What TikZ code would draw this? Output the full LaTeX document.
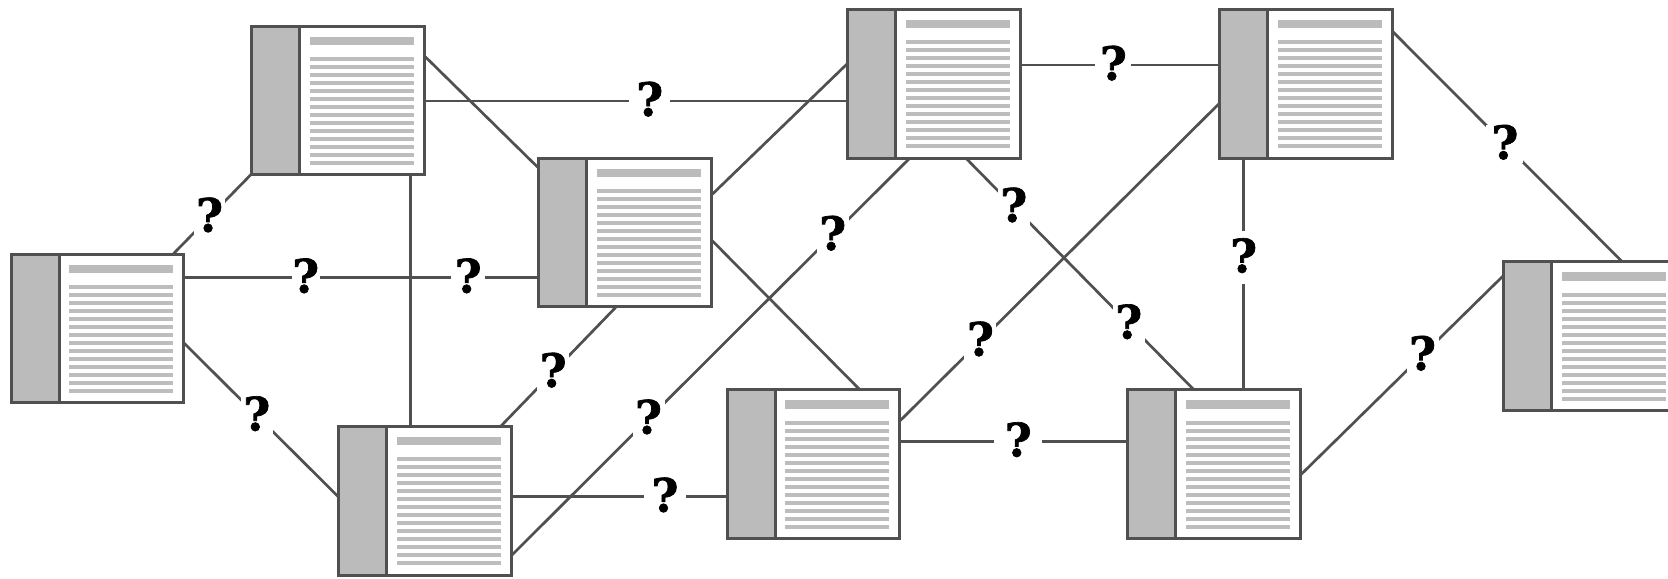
\documentclass[tikz,border=0pt]{standalone}
\usepackage{fontspec}
\newfontfamily\qfont[FakeBold=1.5]{DejaVu Serif Bold}
\definecolor{edgegray}{HTML}{505050}
\definecolor{pane}{HTML}{BBBBBB}
\definecolor{rowgray}{HTML}{BDBDBD}
\tikzset{
  docbox/.style={rectangle,draw=edgegray,line width=1.5pt,fill=white,minimum width=86.25pt,inner sep=0pt,outer sep=0pt,anchor=north west},
  link/.style={draw=edgegray,line width=1.35pt},
  qmark/.style={rectangle,fill=white,inner sep=0pt,minimum width=#1,minimum height=19pt,font=\qfont\fontsize{23}{23}\selectfont,text=black},
  qmark/.default=15pt
}
% name, x, y, height in px
\newcommand\docat[4]{%
  \node[docbox,minimum height=#4*0.5pt] (#1) at (#2,#3) {};
  \begin{scope}[shift={(#2,#3)}]
    \fill[pane] (0,0) rectangle (48.3,#4);
    \draw[edgegray,line width=1.5pt] (48.3,0) -- (48.3,#4);
    \fill[pane] (58.2,10.5) rectangle (162.2,19);
    \foreach \k in {0,...,13}{\fill[rowgray] (58.2,{31+8*\k}) rectangle (162.2,{35+8*\k});}
  \end{scope}
  \draw[edgegray,line width=1.5pt] (#1.north west) rectangle (#1.south east);
}
\newcommand\on[3]{([shift={(#2,#3)}]#1.north west)}
\newcommand\qm{\raisebox{2.2pt}{?}}
\begin{document}
\begin{tikzpicture}[x=0.5pt,y=-0.5pt]
\useasboundingbox (0,0) rectangle (1668,578);
\clip (0,0) rectangle (1668,578);
\docat{A}{11}{254.2}{148}
\docat{B}{251.5}{26}{148}
\docat{C}{538.5}{158}{148}
\docat{D}{338.5}{426}{149.3}
\docat{E}{847.5}{9}{149.3}
\docat{F}{1219.5}{9}{149.3}
\docat{G}{727}{389.5}{149}
\docat{H}{1127.5}{389.5}{149}
\docat{I}{1503.5}{261.5}{149}
\path[link] \on{A}{162}{0} -- node[qmark=15.5pt,pos=.466] (q1) {\qm} \on{B}{0}{148};
\path[link] \on{A}{172.5}{23.5} -- node[qmark=14pt,pos=.344] (q2) {\qm} node[qmark=17pt,pos=.802] (q3) {\qm} \on{C}{0}{119.7};
\path[link] \on{A}{172.5}{88.3} -- node[qmark=16pt,pos=.473] (q4) {\qm} \on{D}{0}{71};
\path[link] \on{B}{159.1}{148} -- \on{D}{72.1}{0};
\path[link] \on{B}{172.5}{75} -- node[qmark=20.5pt,pos=.533] (q5) {\qm} \on{E}{0}{92};
\path[link] \on{B}{172.5}{29.5} -- \on{C}{0}{10};
\path[link] \on{C}{172.5}{37.5} -- \on{E}{0}{54.5};
\path[link] \on{C}{172.5}{81.5} -- \on{G}{132.6}{0};
\path[link] \on{D}{162.5}{0} -- node[qmark=16pt,pos=.45] (q6) {\qm} \on{C}{78.5}{148};
\path[link] \on{D}{172.5}{130} -- node[qmark=16pt,pos=.345] (q7) {\qm} node[qmark=16pt,pos=.807] (q8) {\qm} \on{E}{62.1}{149.3};
\path[link] \on{D}{172.5}{70.8} -- node[qmark=21pt,pos=.713] (q9) {\qm} \on{G}{0}{107.3};
\path[link] \on{E}{172.5}{56} -- node[qmark=18pt,pos=.468] (q10) {\qm} \on{F}{0}{56};
\path[link] \on{E}{118.5}{149.3} -- node[qmark=16pt,pos=.21] (q11) {\qm} node[qmark=16pt,pos=.715] (q12) {\qm} \on{H}{66.1}{0};
\path[link] \on{G}{172.5}{31.8} -- node[qmark=16pt,pos=.253] (q13) {\qm} \on{F}{0}{94.2};
\path[link] \on{F}{24.1}{149.3} -- node[qmark,minimum height=26.5pt,pos=.429] (q14) {\qm} \on{H}{116.1}{0};
\path[link] \on{G}{172.5}{52} -- node[qmark=24pt,pos=.521] (q15) {\qm} \on{H}{0}{52};
\path[link] \on{F}{172.5}{21.9} -- node[qmark=18.5pt,pos=.491] (q16) {\qm} \on{I}{118.5}{0};
\path[link] \on{H}{172.5}{86} -- node[qmark=16pt,pos=.602] (q17) {\qm} \on{I}{0}{14};
\end{tikzpicture}
\end{document}
